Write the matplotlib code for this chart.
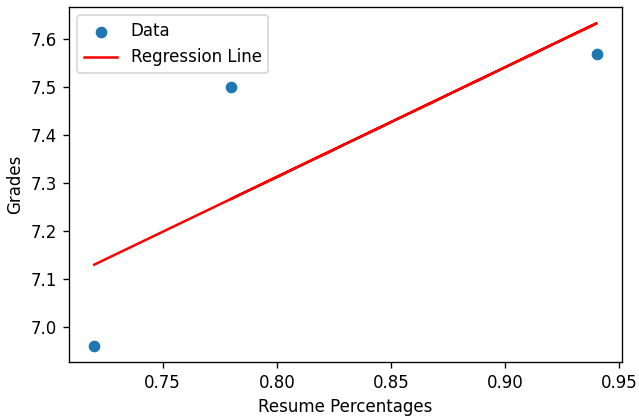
import matplotlib
matplotlib.use('Agg')
import matplotlib.pyplot as plt
import numpy as np

resume_pct = [0.72, 0.94, 0.78]
grades = [6.96, 7.57, 7.50]

x = np.array(resume_pct)
y = np.array(grades)
slope, intercept = np.polyfit(x, y, 1)
pred = slope * x + intercept

fig = plt.figure(figsize=(639 / 120, 419 / 120), dpi=120)
ax = fig.add_axes([0.108, 0.136, 0.865, 0.847])
ax.scatter(x, y, label='Data')
ax.plot(x, pred, color='red', label='Regression Line')
ax.set_xlabel('Resume Percentages')
ax.set_ylabel('Grades')
ax.legend(loc='upper left')
fig.savefig('out.png', dpi=120)
